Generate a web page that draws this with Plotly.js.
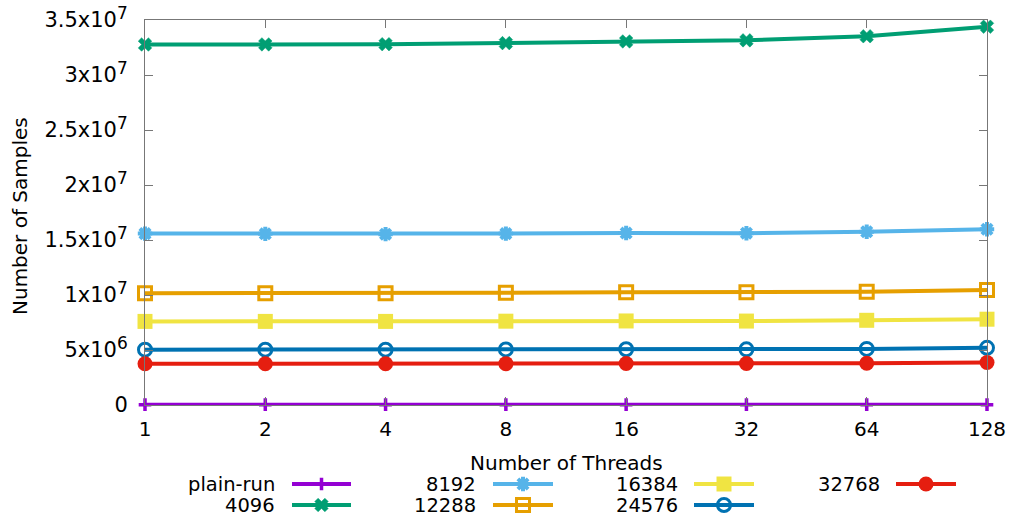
<!DOCTYPE html>
<html>
<head>
<meta charset="utf-8">
<script src="https://cdn.plot.ly/plotly-3.0.1.min.js"></script>
<style>html,body{margin:0;padding:0;background:#fff;}#chart{width:1014px;height:522px;}</style>
</head>
<body>
<div id="chart"></div>
<script>
const threads = [1, 2, 4, 8, 16, 32, 64, 128];
const threadLabels = ['1', '2', '4', '8', '16', '32', '64', '128'];
const seriesNames = ['plain-run', '4096', '8192', '12288', '16384', '24576', '32768'];
const plainRun = [30000, 30000, 30000, 30000, 30000, 30000, 30000, 30000];
const s4096 = [32.77e6, 32.78e6, 32.80e6, 32.90e6, 33.05e6, 33.15e6, 33.52e6, 34.39e6];
const s8192 = [15.58e6, 15.56e6, 15.53e6, 15.58e6, 15.63e6, 15.62e6, 15.75e6, 15.98e6];
const s12288 = [10.17e6, 10.15e6, 10.15e6, 10.20e6, 10.25e6, 10.25e6, 10.30e6, 10.45e6];
const s16384 = [7.60e6, 7.60e6, 7.60e6, 7.62e6, 7.64e6, 7.63e6, 7.70e6, 7.80e6];
const s24576 = [5.03e6, 5.03e6, 5.03e6, 5.05e6, 5.07e6, 5.06e6, 5.10e6, 5.20e6];
const s32768 = [3.75e6, 3.75e6, 3.75e6, 3.76e6, 3.77e6, 3.77e6, 3.80e6, 3.87e6];
const yTickVals = [0, 5e6, 1e7, 1.5e7, 2e7, 2.5e7, 3e7, 3.5e7];
const SUP = v => '<sup><span style="font-size:17px">' + v + '</span></sup>';
const yTickText = ['0', '5x10' + SUP(6), '1x10' + SUP(7), '1.5x10' + SUP(7), '2x10' + SUP(7), '2.5x10' + SUP(7), '3x10' + SUP(7), '3.5x10' + SUP(7)];

const allValues = [plainRun, s4096, s8192, s12288, s16384, s24576, s32768];
const colors = ['#9400d3', '#009e73', '#56b4e9', '#e69f00', '#f0e442', '#0072b2', '#e51e10'];
const symbols = ['cross-thin-open', 'x', 'asterisk-open', 'square-open', 'square', 'circle-open', 'circle'];
const msizes = [9, 12, 12, 13, 15, 13, 15];
const mlw = [3.5, 0.5, 4, 3, 0, 3, 0];

const FONT = 'DejaVu Sans, sans-serif';
const W = 1014, H = 522;
// plot area in pixels
const L = 145, R = 987, T = 20, B = 405;

function mk(i) {
  return {
    color: colors[i], symbol: symbols[i], size: msizes[i],
    line: {color: colors[i], width: mlw[i]}
  };
}

const traces = allValues.map((vals, i) => ({
  x: threads, y: vals, name: seriesNames[i], type: 'scatter', mode: 'lines+markers',
  line: {color: colors[i], width: 4}, marker: mk(i), cliponaxis: false, showlegend: false
}));

// custom legend (gnuplot style: label, then key sample), drawn in a pixel-scaled helper subplot
const colText = [277, 478, 680, 882];
const colLine = [[292, 351], [493, 553], [694, 754], [896, 956]];
const rowY = [484, 505];
const annotations = [];
seriesNames.forEach((name, i) => {
  const c = Math.floor(i / 2), r = i % 2;
  annotations.push({
    text: name, xref: 'x2', yref: 'y2', x: colText[c], y: rowY[r], height: 21, valign: 'middle',
    xanchor: 'right', yanchor: 'middle', showarrow: false, font: {family: FONT, size: 19.5, color: '#000'}
  });
  const mid = (colLine[c][0] + colLine[c][1]) / 2;
  traces.push({
    x: [colLine[c][0], mid, colLine[c][1]], y: [rowY[r], rowY[r], rowY[r]], xaxis: 'x2', yaxis: 'y2',
    type: 'scatter', mode: 'lines', line: {color: colors[i], width: 4},
    cliponaxis: false, showlegend: false, hoverinfo: 'skip'
  });
  traces.push({
    x: [mid], y: [rowY[r]], xaxis: 'x2', yaxis: 'y2',
    type: 'scatter', mode: 'markers', marker: mk(i), cliponaxis: false, showlegend: false, hoverinfo: 'skip'
  });
});

// axis titles
annotations.push({
  text: 'Number of Threads', xref: 'paper', yref: 'paper', x: (L + R) / 2 / W, y: 1 - 463 / H,
  height: 20, valign: 'middle',
  xanchor: 'center', yanchor: 'middle', showarrow: false, font: {family: FONT, size: 20, color: '#000'}
});
annotations.push({
  text: 'Number of Samples', xref: 'paper', yref: 'paper', x: 20 / W, y: 1 - 216 / H, textangle: -90,
  xanchor: 'center', yanchor: 'middle', showarrow: false, font: {family: FONT, size: 20, color: '#000'}
});

const axCommon = {
  ticks: 'inside', ticklen: 8, tickcolor: '#777', showline: true, linecolor: '#777', linewidth: 1,
  mirror: 'ticks', showgrid: false, zeroline: false, automargin: false,
  tickfont: {family: FONT, size: 21, color: '#000'}
};

const layout = {
  width: W, height: H,
  margin: {l: 0, r: 0, t: 0, b: 0, pad: 0},
  paper_bgcolor: '#fff', plot_bgcolor: '#fff',
  font: {family: FONT, color: '#000'},
  showlegend: false,
  xaxis: Object.assign({}, axCommon, {
    type: 'log', range: [0, Math.log10(128)], tickvals: threads, ticktext: threadLabels,
    domain: [L / W, R / W], ticklabelstandoff: 6, tickfont: {family: FONT, size: 20, color: '#000'}
  }),
  yaxis: Object.assign({}, axCommon, {
    range: [0, 3.5e7], tickvals: yTickVals, ticktext: yTickText,
    domain: [1 - B / H, 1 - T / H], ticklabelstandoff: 12
  }),
  xaxis2: {anchor: 'y2', domain: [0, 1], range: [0, W], visible: false, fixedrange: true},
  yaxis2: {anchor: 'x2', domain: [0, 1 - 440 / H], range: [H, 440], visible: false, fixedrange: true},
  annotations: annotations
};

Plotly.newPlot('chart', traces, layout, {displayModeBar: false, staticPlot: true});
</script>
</body>
</html>
